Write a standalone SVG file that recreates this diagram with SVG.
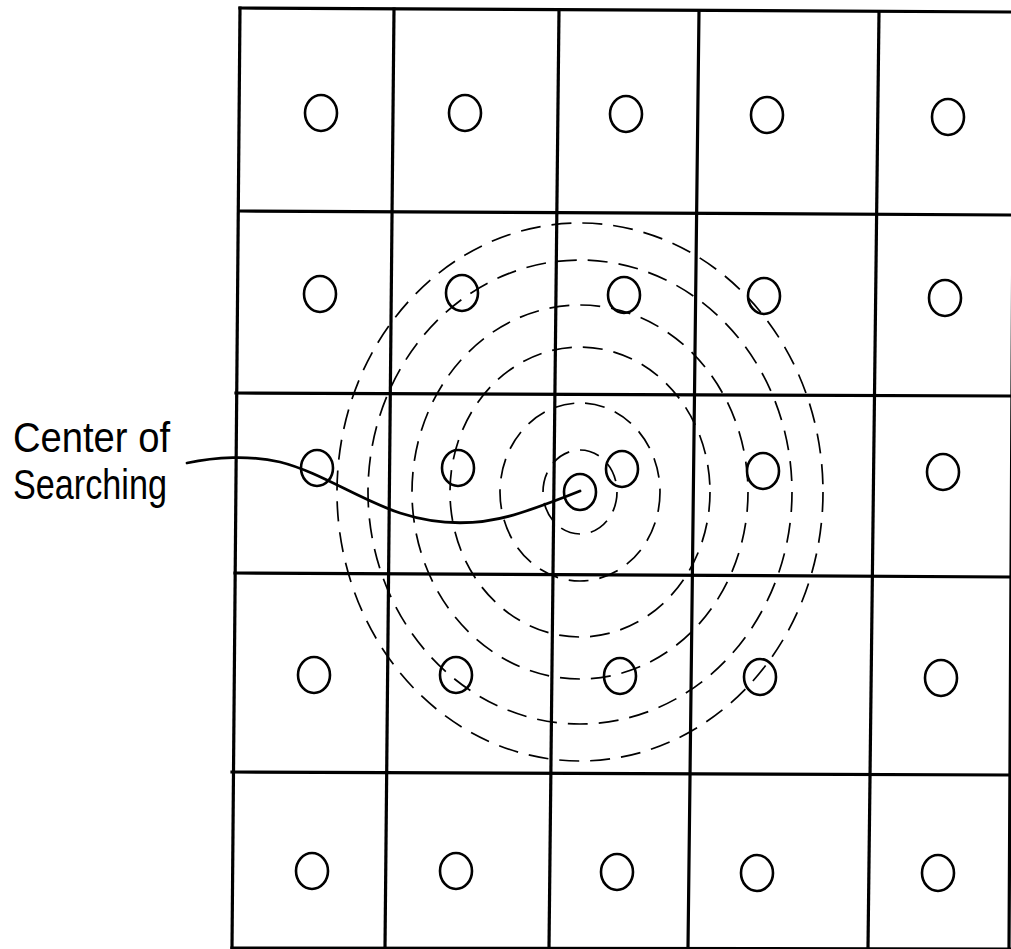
<svg xmlns="http://www.w3.org/2000/svg" width="1011" height="949" viewBox="0 0 1011 949">
<style>
.grid{stroke:#000;stroke-width:3.2;fill:none;stroke-linecap:square}
.dot{stroke:#000;stroke-width:2.6;fill:none}
.ring{stroke:#000;stroke-width:1.7;fill:none;stroke-dasharray:20 11}
.lead{stroke:#000;stroke-width:2.8;fill:none;stroke-linecap:round}
.lbl{font-family:"Liberation Sans",Arial,sans-serif;font-size:42px;fill:#000}
</style>
<rect width="1011" height="949" fill="#fff"/>
<g id="grid">
<line class="grid" x1="240" y1="8" x2="1014" y2="12"/>
<line class="grid" x1="240" y1="211" x2="1014" y2="215"/>
<line class="grid" x1="236" y1="393" x2="1014" y2="396"/>
<line class="grid" x1="235" y1="573" x2="1014" y2="577"/>
<line class="grid" x1="232" y1="772" x2="1014" y2="775"/>
<line class="grid" x1="232" y1="948" x2="1014" y2="949"/>
<line class="grid" x1="240" y1="8" x2="232" y2="948"/>
<line class="grid" x1="394" y1="9" x2="385" y2="948"/>
<line class="grid" x1="559" y1="10" x2="549" y2="948"/>
<line class="grid" x1="699" y1="11" x2="688" y2="948"/>
<line class="grid" x1="879" y1="12" x2="868" y2="948"/>
<line class="grid" x1="1014" y1="12" x2="1009" y2="949"/>
</g>
<g id="search-rings">
<ellipse class="ring" cx="580" cy="492" rx="243" ry="269"/>
<ellipse class="ring" cx="580" cy="492" rx="212" ry="232"/>
<ellipse class="ring" cx="580" cy="492" rx="168" ry="187"/>
<ellipse class="ring" cx="580" cy="492" rx="130" ry="145"/>
<ellipse class="ring" cx="580" cy="492" rx="80" ry="89"/>
<ellipse class="ring" cx="580" cy="492" rx="37" ry="42"/>
</g>
<g id="points">
<g id="row1">
<ellipse class="dot" cx="321" cy="113" rx="16" ry="18"/>
<ellipse class="dot" cx="465" cy="113" rx="16" ry="18"/>
<ellipse class="dot" cx="626" cy="114" rx="16" ry="18"/>
<ellipse class="dot" cx="767" cy="115" rx="16" ry="18"/>
<ellipse class="dot" cx="948" cy="117" rx="16" ry="18"/>
</g>
<g id="row2">
<ellipse class="dot" cx="320" cy="294" rx="16" ry="18"/>
<ellipse class="dot" cx="462" cy="293" rx="16" ry="18"/>
<ellipse class="dot" cx="624" cy="295" rx="16" ry="18"/>
<ellipse class="dot" cx="764" cy="296" rx="16" ry="18"/>
<ellipse class="dot" cx="945" cy="298" rx="16" ry="18"/>
</g>
<g id="row3">
<ellipse class="dot" cx="317" cy="468" rx="16" ry="18"/>
<ellipse class="dot" cx="458" cy="468" rx="16" ry="18"/>
<ellipse class="dot" cx="622" cy="469" rx="16" ry="18"/>
<ellipse class="dot" cx="763" cy="471" rx="16" ry="18"/>
<ellipse class="dot" cx="943" cy="472" rx="16" ry="18"/>
</g>
<g id="center-point">
<ellipse class="dot" cx="580" cy="492" rx="16" ry="18"/>
</g>
<g id="row4">
<ellipse class="dot" cx="314" cy="675" rx="16" ry="18"/>
<ellipse class="dot" cx="456" cy="675" rx="16" ry="18"/>
<ellipse class="dot" cx="620" cy="676" rx="16" ry="18"/>
<ellipse class="dot" cx="760" cy="677" rx="16" ry="18"/>
<ellipse class="dot" cx="941" cy="678" rx="16" ry="18"/>
</g>
<g id="row5">
<ellipse class="dot" cx="312" cy="871" rx="16" ry="18"/>
<ellipse class="dot" cx="456" cy="871" rx="16" ry="18"/>
<ellipse class="dot" cx="617" cy="872" rx="16" ry="18"/>
<ellipse class="dot" cx="757" cy="873" rx="16" ry="18"/>
<ellipse class="dot" cx="938" cy="873" rx="16" ry="18"/>
</g>
</g>
<g id="connectors">
<path class="lead" d="M187,463 C215,457 250,455 280,462 C320,472 360,500 400,513 C440,526 480,526 520,513 C545,505 565,497 580,491"/>
</g>
<g id="label">
<text class="lbl" x="13" y="452" textLength="157" lengthAdjust="spacingAndGlyphs">Center of</text>
<text class="lbl" x="13" y="499" textLength="154" lengthAdjust="spacingAndGlyphs">Searching</text>
</g>
</svg>
